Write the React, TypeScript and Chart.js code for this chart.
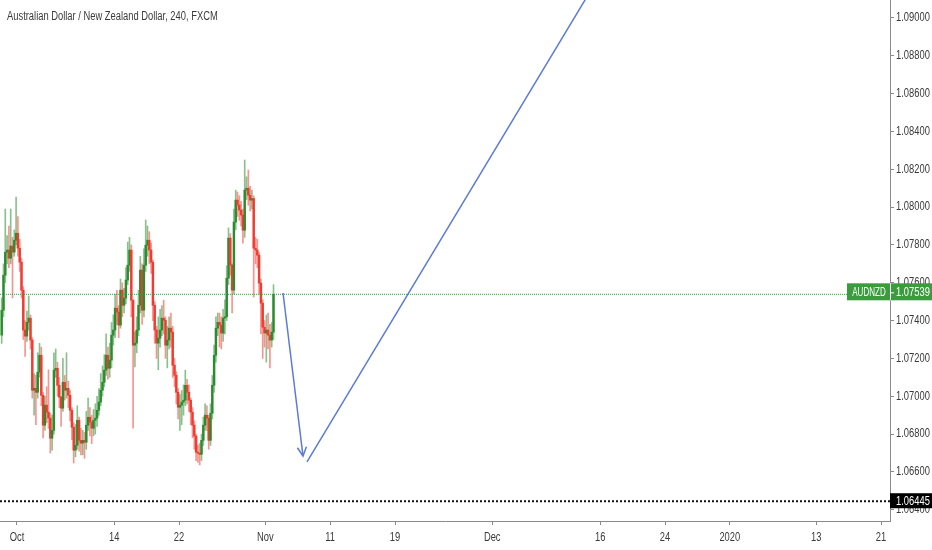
import { useEffect, useRef } from 'react';
import { Chart, registerables } from 'chart.js';

Chart.register(...registerables);

const TITLE = 'Australian Dollar / New Zealand Dollar, 240, FXCM';
const SYMBOL = 'AUDNZD';

// 4h candles; the first one opens Fri 27 Sep 12:00 (trading day -1.5 from 1 Oct)
const firstCandleDay = -1.5;
const candlesPerDay = 6;
const firstOpen = 1.07323;

const closes = [
  1.07455, 1.07640, 1.07762, 1.07773, 1.07730, 1.07794, 1.07762, 1.07825, 1.07862, 1.07783,
  1.07709, 1.07561, 1.07350, 1.07318, 1.07391, 1.07413, 1.07297, 1.07032, 1.07042, 1.07021,
  1.07127, 1.07217, 1.07005, 1.06847, 1.06953, 1.06916, 1.06884, 1.06778, 1.06820, 1.07138,
  1.07148, 1.07058, 1.06995, 1.06937, 1.07074, 1.07032, 1.07042, 1.07005, 1.06926, 1.06836,
  1.06715, 1.06741, 1.06873, 1.06767, 1.06752, 1.06767, 1.06757, 1.06847, 1.06889, 1.06863,
  1.06831, 1.06873, 1.06884, 1.06926, 1.06969, 1.07032, 1.07074, 1.07138, 1.07217, 1.07148,
  1.07191, 1.07323, 1.07350, 1.07466, 1.07445, 1.07376, 1.07561, 1.07481, 1.07519, 1.07614,
  1.07693, 1.07773, 1.07508, 1.07270, 1.07281, 1.07350, 1.07481, 1.07667, 1.07455, 1.07693,
  1.07799, 1.07825, 1.07773, 1.07709, 1.07481, 1.07350, 1.07281, 1.07307, 1.07350, 1.07413,
  1.07402, 1.07270, 1.07297, 1.07360, 1.07339, 1.07164, 1.07111, 1.07021, 1.06942, 1.06953,
  1.06969, 1.06979, 1.07058, 1.07021, 1.06979, 1.06916, 1.06847, 1.06789, 1.06704, 1.06699,
  1.06693, 1.06767, 1.06847, 1.06900, 1.06884, 1.06767, 1.06910, 1.07058, 1.07217, 1.07360,
  1.07391, 1.07376, 1.07334, 1.07413, 1.07420, 1.07624, 1.07836, 1.07693, 1.07561, 1.07921,
  1.08037, 1.08011, 1.07984, 1.07958, 1.07878, 1.08090, 1.08100, 1.08063, 1.08037, 1.08045,
  1.07783, 1.07773, 1.07746, 1.07598, 1.07492, 1.07365, 1.07334, 1.07350, 1.07323, 1.07297,
  1.07339, 1.07539,
];

const highs = [
  1.07520, 1.07700, 1.07990, 1.07850, 1.07900, 1.07990, 1.07840, 1.07880, 1.08053, 1.07950,
  1.07830, 1.07730, 1.07580, 1.07400, 1.07450, 1.07530, 1.07430, 1.07310, 1.07120, 1.07110,
  1.07230, 1.07280, 1.07260, 1.07020, 1.07000, 1.07050, 1.07140, 1.06910, 1.06900, 1.07230,
  1.07250, 1.07180, 1.07100, 1.07000, 1.07200, 1.07110, 1.07230, 1.07080, 1.07030, 1.06940,
  1.06860, 1.06850, 1.06950, 1.06890, 1.06830, 1.06820, 1.06810, 1.06920, 1.06990, 1.06940,
  1.06900, 1.06930, 1.06960, 1.07000, 1.07040, 1.07120, 1.07160, 1.07220, 1.07330, 1.07260,
  1.07280, 1.07390, 1.07430, 1.07540, 1.07560, 1.07480, 1.07620, 1.07600, 1.07570, 1.07680,
  1.07815, 1.07840, 1.07800, 1.07510, 1.07340, 1.07420, 1.07560, 1.07740, 1.07700, 1.07780,
  1.07932, 1.07900, 1.07870, 1.07810, 1.07720, 1.07500, 1.07370, 1.07420, 1.07460, 1.07480,
  1.07508, 1.07420, 1.07370, 1.07420, 1.07440, 1.07370, 1.07200, 1.07130, 1.07040, 1.07010,
  1.07030, 1.07060, 1.07138, 1.07090, 1.07060, 1.06990, 1.06940, 1.06870, 1.06800, 1.06740,
  1.06750, 1.06800, 1.06890, 1.06960, 1.06950, 1.06900, 1.06960, 1.07110, 1.07270, 1.07420,
  1.07440, 1.07440, 1.07420, 1.07460, 1.07510, 1.07690, 1.07890, 1.07860, 1.07700, 1.07990,
  1.08090, 1.08080, 1.08060, 1.08030, 1.07990, 1.08249, 1.08160, 1.08196, 1.08110, 1.08090,
  1.08060, 1.07840, 1.07830, 1.07760, 1.07620, 1.07510, 1.07400, 1.07430, 1.07440, 1.07380,
  1.07390, 1.07590,
];

const lows = [
  1.07280, 1.07420, 1.07600, 1.07700, 1.07680, 1.07700, 1.07520, 1.07740, 1.07800, 1.07740,
  1.07660, 1.07520, 1.07300, 1.07210, 1.07290, 1.07350, 1.07250, 1.06990, 1.06900, 1.06850,
  1.06990, 1.07100, 1.06950, 1.06780, 1.06820, 1.06860, 1.06830, 1.06700, 1.06715, 1.06800,
  1.07100, 1.07000, 1.06940, 1.06840, 1.06920, 1.06980, 1.06990, 1.06940, 1.06870, 1.06770,
  1.06647, 1.06680, 1.06720, 1.06710, 1.06690, 1.06690, 1.06672, 1.06720, 1.06820, 1.06790,
  1.06750, 1.06790, 1.06800, 1.06840, 1.06900, 1.06950, 1.07000, 1.07050, 1.07110, 1.07090,
  1.07100, 1.07150, 1.07270, 1.07310, 1.07380, 1.07310, 1.07360, 1.07420, 1.07440, 1.07490,
  1.07590, 1.07660, 1.07420, 1.06831, 1.07155, 1.07230, 1.07320, 1.07440, 1.07380, 1.07420,
  1.07660, 1.07740, 1.07700, 1.07650, 1.07400, 1.07280, 1.07200, 1.07140, 1.07260, 1.07320,
  1.07330, 1.07200, 1.07150, 1.07250, 1.07260, 1.07100, 1.07050, 1.06960, 1.06880, 1.06820,
  1.06850, 1.06900, 1.06950, 1.06960, 1.06920, 1.06850, 1.06780, 1.06720, 1.06660, 1.06650,
  1.06637, 1.06660, 1.06740, 1.06820, 1.06820, 1.06720, 1.06740, 1.06880, 1.07020, 1.07180,
  1.07320, 1.07260, 1.07250, 1.07290, 1.07330, 1.07400, 1.07590, 1.07640, 1.07440, 1.07540,
  1.07880, 1.07950, 1.07930, 1.07900, 1.07810, 1.07840, 1.08040, 1.08010, 1.07980, 1.07990,
  1.07525, 1.07700, 1.07680, 1.07540, 1.07330, 1.07200, 1.07260, 1.07180, 1.07250, 1.07150,
  1.07260, 1.07300,
];

const lastPrice = 1.07539;
const supportLevel = 1.06445;

const priceTicks = [
  1.064, 1.066, 1.068, 1.07, 1.072, 1.074, 1.076, 1.078, 1.08, 1.082, 1.084, 1.086, 1.088, 1.09,
];
const dateTicks = [
  '2019-10-01', '2019-10-14', '2019-10-22', '2019-11-01', '2019-11-11', '2019-11-19',
  '2019-12-02', '2019-12-16', '2019-12-24', '2020-01-01', '2020-01-13', '2020-01-21',
];
const dateTickLabels = ['Oct', '14', '22', 'Nov', '11', '19', 'Dec', '16', '24', '2020', '13', '21'];

// hand-drawn projection (trading days from 1 Oct, price)
const arrowDownDays = [24.63, 26.48];
const arrowDownPrices = [1.07546, 1.06684];
const arrowUpDays = [26.85, 53.7];
const arrowUpPrices = [1.06653, 1.092];

// visible window
const X_MIN = -1.574;
const X_MAX = 80.83;
const Y_MIN = 1.063405;
const Y_MAX = 1.09095;

const FONT = "'Liberation Sans', Arial, sans-serif";
const NARROW = 0.78; // condensed look of the original UI font
const UP = '#2b8c2f';
const DOWN = '#f23b30';
const UP_WICK = 'rgba(43,140,47,0.55)';
const DOWN_WICK = 'rgba(242,59,48,0.55)';
const LABEL_GREEN = '#3c9a3f';
const ARROW = '#5b7bd5';
const AXIS = '#8a8a8a';
const TEXT = '#3a3a3a';

// weekdays elapsed since 1 Oct 2019 (the x axis skips weekends)
function tradingDay(date: string) {
  const start = Date.UTC(2019, 9, 1);
  const end = new Date(date + 'T00:00:00Z').getTime();
  let n = 0;
  for (let t = start; t < end; t += 86400000) {
    const wd = new Date(t).getUTCDay();
    if (wd !== 0 && wd !== 6) n++;
  }
  return n;
}

function narrowText(ctx: CanvasRenderingContext2D, text: string, x: number, y: number, align: CanvasTextAlign, squeeze = NARROW) {
  ctx.save();
  ctx.translate(x, y);
  ctx.scale(squeeze, 1);
  ctx.textAlign = align;
  ctx.textBaseline = 'middle';
  ctx.fillText(text, 0, 0);
  ctx.restore();
}

export default function App() {
  const canvasRef = useRef<HTMLCanvasElement>(null);

  useEffect(() => {
    document.body.style.margin = '0';
    const canvas = canvasRef.current;
    if (!canvas) return;

    const opens = closes.map((c, i) => (i === 0 ? firstOpen : closes[i - 1]));
    const days = closes.map((_, i) => firstCandleDay + (i + 0.5) / candlesPerDay);
    const up = closes.map((c, i) => c >= opens[i]);
    const tickDays = dateTicks.map(tradingDay);

    const overlay = {
      id: 'overlay',
      afterDatasetsDraw(chart: any) {
        // arrowhead at the end of the falling leg
        const { ctx, scales: { x, y } } = chart;
        const x0 = x.getPixelForValue(arrowDownDays[0]);
        const y0 = y.getPixelForValue(arrowDownPrices[0]);
        const x1 = x.getPixelForValue(arrowDownDays[1]);
        const y1 = y.getPixelForValue(arrowDownPrices[1]);
        const back = Math.atan2(y0 - y1, x0 - x1);
        const len = 10;
        const spread = (27 * Math.PI) / 180;
        ctx.save();
        ctx.strokeStyle = ARROW;
        ctx.lineWidth = 1.5;
        ctx.beginPath();
        ctx.moveTo(x1 + len * Math.cos(back - spread), y1 + len * Math.sin(back - spread));
        ctx.lineTo(x1, y1);
        ctx.lineTo(x1 + len * Math.cos(back + spread), y1 + len * Math.sin(back + spread));
        ctx.stroke();
        ctx.restore();
      },
      afterDraw(chart: any) {
        const { ctx, scales: { x, y }, width } = chart;
        ctx.save();
        ctx.font = `12px ${FONT}`;
        ctx.fillStyle = TEXT;
        narrowText(ctx, TITLE, 7, 17, 'left');

        // axis labels
        x.ticks.forEach((t: any, i: number) => {
          narrowText(ctx, dateTickLabels[i], x.getPixelForValue(t.value), x.top + 17, 'center');
        });
        y.ticks.forEach((t: any) => {
          narrowText(ctx, Number(t.value).toFixed(5), y.left + 6, y.getPixelForValue(t.value), 'left');
        });

        // last price label
        const py = y.getPixelForValue(lastPrice);
        ctx.fillStyle = LABEL_GREEN;
        ctx.fillRect(x.right - 43, py - 11, width - (x.right - 43), 17);
        ctx.strokeStyle = '#ffffff';
        ctx.lineWidth = 1;
        ctx.beginPath();
        ctx.moveTo(x.right + 0.5, py - 11);
        ctx.lineTo(x.right + 0.5, py + 6);
        ctx.moveTo(x.right, py - 1.5);
        ctx.lineTo(x.right + 4, py - 1.5);
        ctx.stroke();
        ctx.fillStyle = '#ffffff';
        narrowText(ctx, SYMBOL, x.right - 21, py - 2, 'center', 0.67);
        narrowText(ctx, lastPrice.toFixed(5), x.right + 6, py - 2, 'left');

        // support level label
        const sy = y.getPixelForValue(supportLevel);
        ctx.fillStyle = '#000000';
        ctx.fillRect(x.right, sy - 8, width - x.right, 15);
        ctx.fillStyle = '#ffffff';
        narrowText(ctx, supportLevel.toFixed(5), x.right + 6, sy, 'left');
        ctx.restore();
      },
    };

    const chart = new Chart(canvas, {
      type: 'bar',
      data: {
        datasets: [
          {
            type: 'line',
            data: [
              { x: arrowDownDays[0], y: arrowDownPrices[0] },
              { x: arrowDownDays[1], y: arrowDownPrices[1] },
            ],
            borderColor: ARROW,
            borderWidth: 1.5,
            pointRadius: 0,
            order: 0,
          },
          {
            type: 'line',
            data: [
              { x: arrowUpDays[0], y: arrowUpPrices[0] },
              { x: arrowUpDays[1], y: arrowUpPrices[1] },
            ],
            borderColor: ARROW,
            borderWidth: 1.5,
            pointRadius: 0,
            order: 0,
          },
          {
            type: 'line',
            data: [
              { x: X_MIN, y: lastPrice },
              { x: X_MAX, y: lastPrice },
            ],
            borderColor: LABEL_GREEN,
            borderWidth: 1,
            borderDash: [1, 1],
            pointRadius: 0,
            order: 1,
          },
          {
            type: 'line',
            data: [
              { x: X_MIN, y: supportLevel },
              { x: X_MAX, y: supportLevel },
            ],
            borderColor: '#111111',
            borderWidth: 2,
            borderDash: [2, 2],
            pointRadius: 0,
            order: 1,
          },
          {
            type: 'bar',
            data: days.map((d, i) => ({ x: d, y: [Math.min(opens[i], closes[i]), Math.max(opens[i], closes[i])] })),
            backgroundColor: up.map((u) => (u ? UP : DOWN)),
            barThickness: 1.8,
            minBarLength: 1,
            grouped: false,
            order: 2,
          },
          {
            type: 'bar',
            data: days.map((d, i) => ({ x: d, y: [lows[i], highs[i]] })),
            backgroundColor: up.map((u) => (u ? UP_WICK : DOWN_WICK)),
            barThickness: 1,
            grouped: false,
            order: 3,
          },
        ] as any,
      },
      options: {
        responsive: true,
        maintainAspectRatio: false,
        animation: false,
        layout: { padding: 0 },
        plugins: {
          legend: { display: false },
          tooltip: { enabled: false },
          title: { display: false },
        },
        scales: {
          x: {
            type: 'linear',
            min: X_MIN,
            max: X_MAX,
            offset: false,
            grid: { drawOnChartArea: false, drawTicks: true, tickLength: 4, color: AXIS, offset: false },
            border: { display: true, color: AXIS },
            ticks: { display: false },
            afterBuildTicks: (s: any) => {
              s.ticks = tickDays.map((v) => ({ value: v }));
            },
            afterFit: (s: any) => {
              s.height = 29;
            },
          },
          y: {
            type: 'linear',
            position: 'right',
            min: Y_MIN,
            max: Y_MAX,
            grid: { drawOnChartArea: false, drawTicks: true, tickLength: 4, color: AXIS },
            border: { display: true, color: AXIS },
            ticks: { display: false },
            afterBuildTicks: (s: any) => {
              s.ticks = priceTicks.map((v) => ({ value: v }));
            },
            afterFit: (s: any) => {
              s.width = 42;
            },
          },
        },
      },
      plugins: [overlay],
    });

    return () => {
      chart.destroy();
    };
  }, []);

  return (
    <div style={{ position: 'relative', width: 932, height: 550 }}>
      <canvas ref={canvasRef} />
    </div>
  );
}
